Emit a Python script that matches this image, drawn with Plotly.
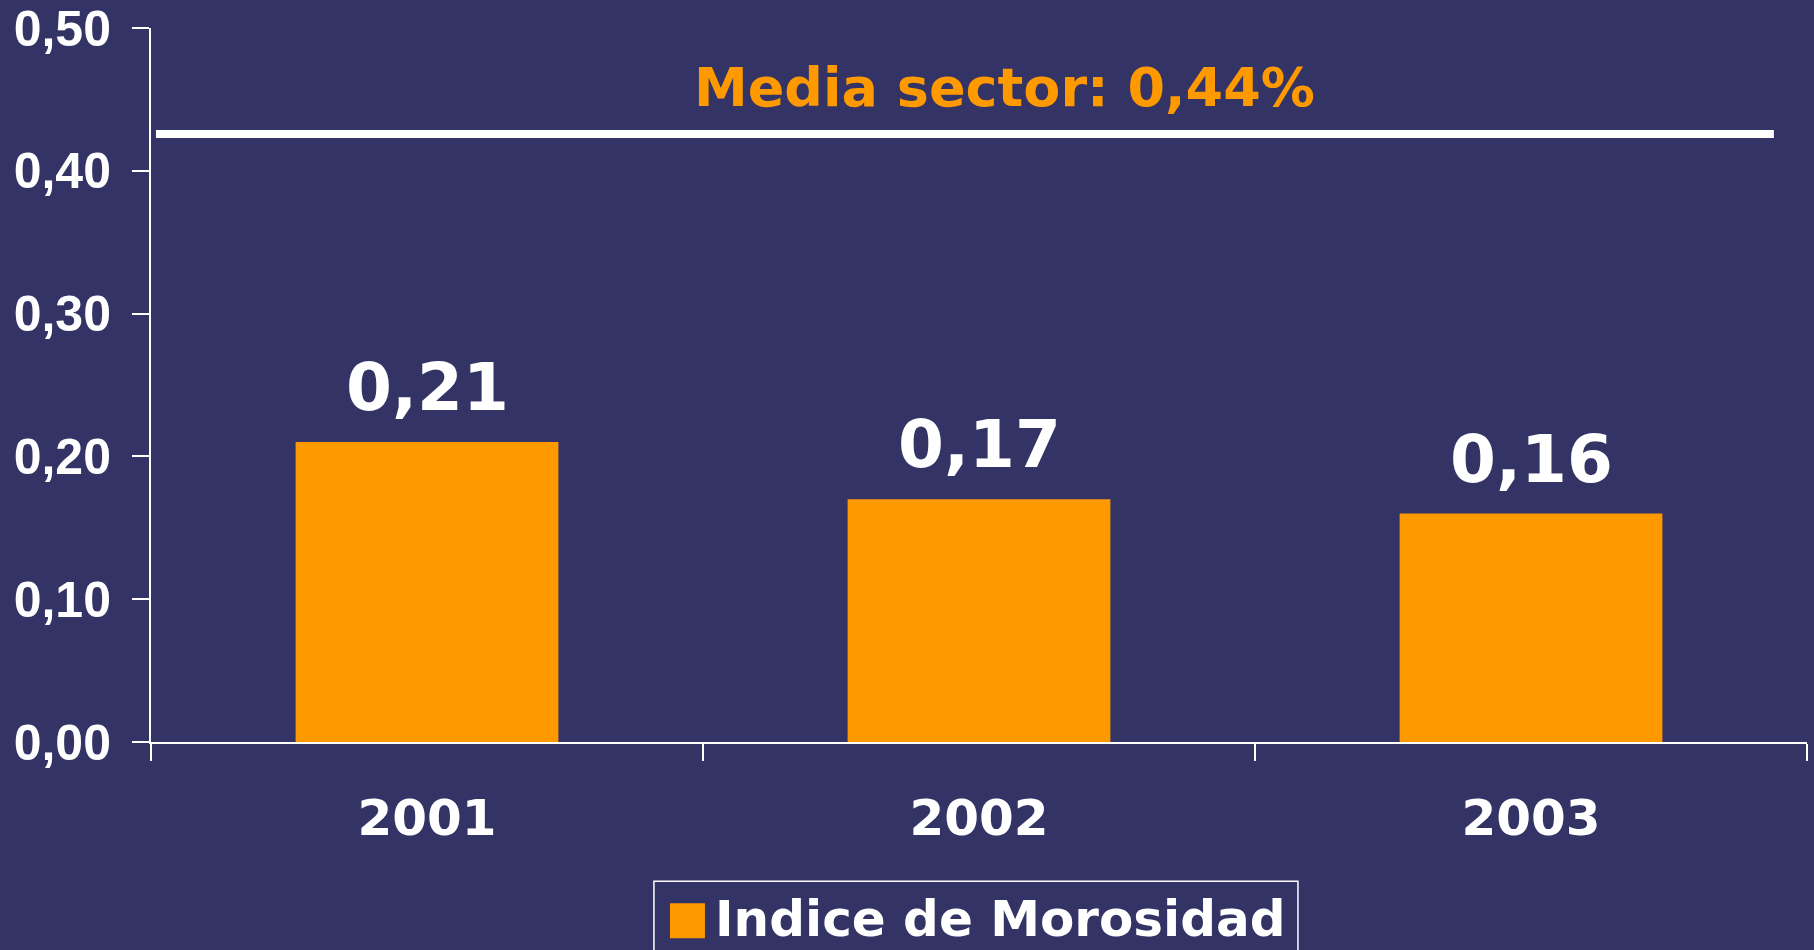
import plotly.graph_objects as go

# ---- data ----
years = ["2001", "2002", "2003"]
morosidad = [0.21, 0.17, 0.16]
series_name = "Indice de Morosidad"
media_sector_label = "Media sector: 0,44%"
media_line_value = 0.4257
y_tick_values = [0.0, 0.1, 0.2, 0.3, 0.4, 0.5]

BG = "#333366"
ORANGE = "#FF9900"
WHITE = "#FFFFFF"
VERDANA = "Verdana, DejaVu Sans, sans-serif"
ARIAL = "Arial, Liberation Sans, sans-serif"

fig = go.Figure()
fig.add_trace(go.Bar(
    x=years, y=morosidad, name=series_name,
    marker=dict(color=ORANGE, line=dict(width=0)),
    width=0.476, showlegend=False, hoverinfo="skip",
))

annotations = []
for i, v in enumerate(morosidad):
    annotations.append(dict(
        x=i, y=v, xref="x", yref="y", text=f"{v:.2f}".replace(".", ","),
        showarrow=False, yanchor="bottom", xanchor="center", yshift=14,
        font=dict(family=VERDANA, size=66, color=WHITE, weight="bold"),
    ))

annotations.append(dict(
    x=0.5155, y=0.4565, xref="paper", yref="y", text=media_sector_label,
    showarrow=False, xanchor="center", yanchor="middle", yshift=3,
    font=dict(family=VERDANA, size=54, color=ORANGE, weight="bold"),
))

# legend (drawn manually to match large swatch)
annotations.append(dict(
    x=0.3395, y=-0.2475, xref="paper", yref="paper", text=series_name,
    showarrow=False, xanchor="left", yanchor="middle",
    font=dict(family=VERDANA, size=50, color=WHITE, weight="bold"),
))

shapes = [
    dict(type="line", xref="paper", yref="y", x0=0.003, x1=0.980,
         y0=media_line_value, y1=media_line_value,
         line=dict(color=WHITE, width=8)),
    dict(type="rect", xref="paper", yref="paper", x0=0.3037, x1=0.6926,
         y0=-0.195, y1=-0.32, line=dict(color=WHITE, width=1.5)),
    dict(type="rect", xref="paper", yref="paper", x0=0.3134, x1=0.3345,
         y0=-0.2258, y1=-0.2749, fillcolor=ORANGE, line=dict(width=0)),
]

fig.update_layout(
    width=1814, height=950,
    paper_bgcolor=BG, plot_bgcolor=BG,
    margin=dict(l=151, r=7, t=28, b=208),
    separators=",.",
    annotations=annotations, shapes=shapes,
    showlegend=False,
    xaxis=dict(
        type="category", range=[-0.5, 2.5], automargin=False,
        showline=True, linecolor=WHITE, linewidth=2,
        ticks="outside", tickson="boundaries", ticklen=17, tickwidth=2, tickcolor=WHITE,
        tickfont=dict(family=VERDANA, size=50, color=WHITE, weight="bold"),
        ticklabelstandoff=31, showgrid=False, zeroline=False,
    ),
    yaxis=dict(
        range=[0, 0.5], tickvals=y_tick_values, tickformat=".2f", automargin=False,
        showline=True, linecolor=WHITE, linewidth=2,
        ticks="outside", ticklen=17, tickwidth=2, tickcolor=WHITE,
        tickfont=dict(family=ARIAL, size=50, color=WHITE, weight="bold"),
        ticklabelstandoff=11, showgrid=False, zeroline=False,
    ),
)

fig.write_html(
    "out.html",
    config={"displayModeBar": False},
    post_script="document.body.style.margin='0';document.body.style.overflow='hidden';",
)
